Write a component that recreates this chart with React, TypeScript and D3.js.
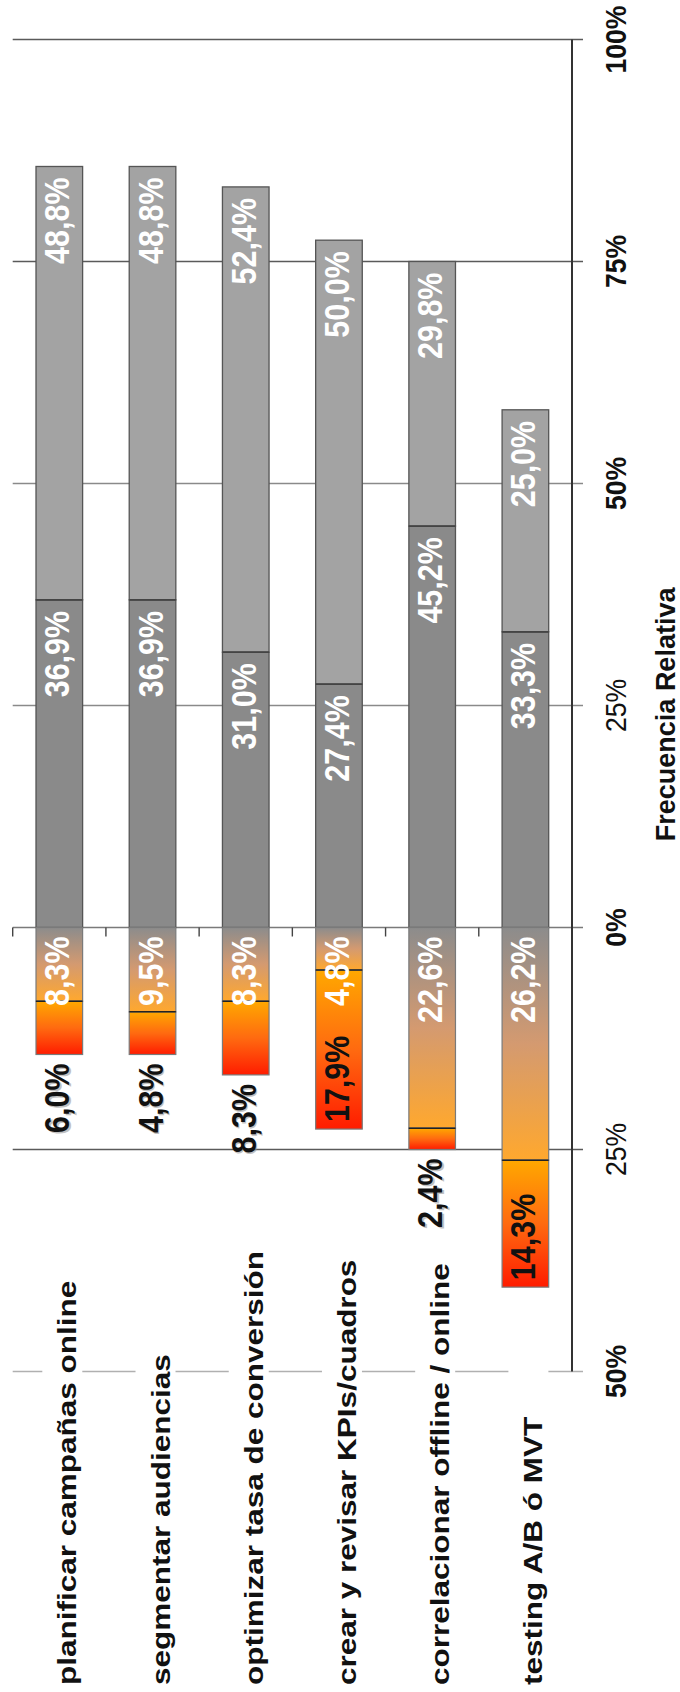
import React from "react";
import * as d3 from "d3";

const categories = [
  "planificar campañas online",
  "segmentar audiencias",
  "optimizar tasa de conversión",
  "crear y revisar KPIs/cuadros",
  "correlacionar offline / online",
  "testing A/B ó MVT",
];
// positive side (upwards from 0)
const muyImportante = [36.9, 36.9, 31.0, 27.4, 45.2, 33.3];
const importante = [48.8, 48.8, 52.4, 50.0, 29.8, 25.0];
// negative side (downwards from 0)
const pocoImportante = [8.3, 9.5, 8.3, 4.8, 22.6, 26.2];
const nadaImportante = [6.0, 4.8, 8.3, 17.9, 2.4, 14.3];

const tickValues = [100, 75, 50, 25, 0, -25, -50];
const axisTitle = "Frecuencia Relativa";

const W = 680;
const H = 1692;

const locale = d3.formatLocale({ decimal: ",", thousands: ".", grouping: [3], currency: ["", "€"] });
const fmt = locale.format(".1f");
const pct = (v: number) => fmt(v) + "%";

const rot = (x: number, y: number, k: number) => `translate(${x},${y}) rotate(-90) scale(1,${k})`;

export default function App() {
  const x = d3.scaleBand<string>().domain(categories).range([12.7, 572]).paddingInner(0.5).paddingOuter(0.25);
  const y = d3.scaleLinear().domain([-50, 100]).range([1371.5, 39.5]);
  const bw = x.bandwidth();
  const y0 = y(0);

  const gridColor = (v: number) => {
    if (v === -50) return "#b0b0b0";
    if (v === 50 || v === 25) return "#8a8a8a";
    if (v === 0) return "#7a7a7a";
    return "#5a5a5a";
  };

  const valueFont = "Liberation Sans, Arial, sans-serif";

  return (
    <svg width={W} height={H} style={{ position: "absolute", left: 0, top: 0, background: "#fff" }}>
      <defs>
        <linearGradient id="gPoco" x1="0" y1="0" x2="0" y2="1">
          <stop offset="0" stopColor="#8c8c8c" />
          <stop offset="0.5" stopColor="#d49a70" />
          <stop offset="1" stopColor="#ffa82e" />
        </linearGradient>
        <linearGradient id="gNada" x1="0" y1="0" x2="0" y2="1">
          <stop offset="0" stopColor="#ffa800" />
          <stop offset="0.5" stopColor="#ff6a10" />
          <stop offset="1" stopColor="#ff1c00" />
        </linearGradient>
      </defs>

      {/* gridlines */}
      {tickValues.map((v) => (
        <line key={"g" + v} x1={12.7} x2={583} y1={y(v)} y2={y(v)} stroke={gridColor(v)} strokeWidth={1.6} />
      ))}

      {/* category boundary ticks on 0 line */}
      {d3.range(categories.length + 1).map((i) => {
        const xx = x.range()[0] + i * x.step();
        return <line key={"t" + i} x1={xx} x2={xx} y1={y0} y2={y0 + 9} stroke="#444" strokeWidth={1.4} />;
      })}

      {/* right axis */}
      <line x1={572} x2={572} y1={y(100)} y2={y(-50)} stroke="#333" strokeWidth={2} />

      {/* bars */}
      {categories.map((c, i) => {
        const bx = x(c) as number;
        const a = muyImportante[i];
        const b = importante[i];
        const p = pocoImportante[i];
        const n = nadaImportante[i];
        return (
          <g key={c}>
            <rect x={bx} y={y(a)} width={bw} height={y0 - y(a)} fill="#8a8a8a" stroke="#555" strokeWidth={1.3} />
            <rect x={bx} y={y(a + b)} width={bw} height={y(a) - y(a + b)} fill="#a3a3a3" stroke="#555" strokeWidth={1.3} />
            <rect x={bx} y={y0} width={bw} height={y(-p) - y0} fill="url(#gPoco)" stroke="#7a7a7a" strokeWidth={1.2} />
            <rect x={bx} y={y(-p)} width={bw} height={y(-p - n) - y(-p)} fill="url(#gNada)" stroke="#7a7a7a" strokeWidth={1.2} />
            <line x1={bx} x2={bx + bw} y1={y(-p)} y2={y(-p)} stroke="#222" strokeWidth={1.5} />
            <line x1={bx} x2={bx + bw} y1={y(a)} y2={y(a)} stroke="#444" strokeWidth={1.8} />
          </g>
        );
      })}

      {/* value labels */}
      {categories.map((c, i) => {
        const cx = (x(c) as number) + bw / 2 + 10;
        const a = muyImportante[i];
        const b = importante[i];
        const p = pocoImportante[i];
        const n = nadaImportante[i];
        const inside = n >= 10;
        const nAnchorY = inside ? y(-p - n) - 7 : y(-p - n) + 9;
        return (
          <g key={"l" + c} fontFamily={valueFont} fontSize={30.5}>
            <text transform={rot(cx, y(a + b) + 11, 1.12)} textAnchor="end" fill="#fff" fontWeight="bold">{pct(b)}</text>
            <text transform={rot(cx, y(a) + 11, 1.12)} textAnchor="end" fill="#fff" fontWeight="bold">{pct(a)}</text>
            <text transform={rot(cx, y0 + 9, 1.12)} textAnchor="end" fill="#fff" fontWeight="bold">{pct(p)}</text>
            {!inside && (
              <text transform={rot(cx + 1.5, nAnchorY + 1.5, 1.12)} textAnchor="end" fill="#999" fontWeight="bold" opacity={0.6}>{pct(n)}</text>
            )}
            <text transform={rot(cx, nAnchorY, 1.12)} textAnchor={inside ? "start" : "end"} fill="#111" fontWeight="bold">{pct(n)}</text>
          </g>
        );
      })}

      {/* axis tick labels */}
      {tickValues.map((v) => (
        <text
          key={"tl" + v}
          transform={rot(626, y(v), 1.1)}
          textAnchor="middle"
          fontFamily={valueFont}
          fontSize={26.6}
          fontWeight={Math.abs(v) === 25 ? "normal" : "bold"}
          fill="#111"
        >
          {Math.abs(v) + "%"}
        </text>
      ))}

      {/* axis title */}
      <text transform={rot(675, y(24), 1)} textAnchor="middle" fontFamily={valueFont} fontSize={27} fontWeight="bold" fill="#111">
        {axisTitle}
      </text>

      {/* category labels */}
      {categories.map((c) => {
        const bx = (x(c) as number) + bw / 2 + 17;
        return (
          <g key={"c" + c}>
            <rect x={bx - 34} y={y(-50) - 8} width={40} height={16} fill="#fff" />
            <text transform={rot(bx, 1685, 0.83)} textAnchor="start" fontFamily={valueFont} fontSize={31.5} fontWeight="bold" fill="#111">
              {c}
            </text>
          </g>
        );
      })}
    </svg>
  );
}
